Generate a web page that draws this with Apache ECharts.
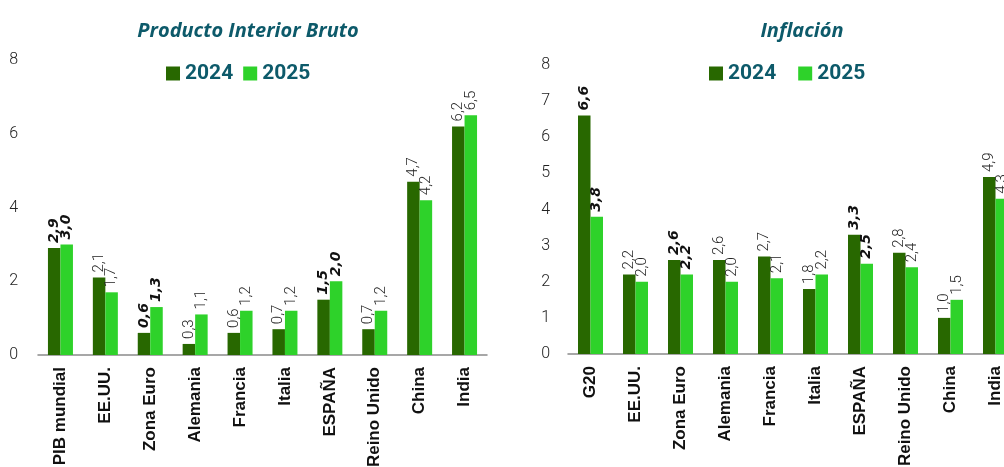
<!DOCTYPE html>
<html>
<head>
<meta charset="utf-8">
<script src="https://cdn.jsdelivr.net/npm/echarts@6/dist/echarts.min.js"></script>
<style>
  html, body { margin: 0; padding: 0; background: #fff; overflow: hidden; }
  #chart { width: 1004px; height: 467px; }
</style>
</head>
<body>
<div id="chart"></div>
<script>
// datos
var pibCats = ['PIB mundial', 'EE.UU.', 'Zona Euro', 'Alemania', 'Francia', 'Italia', 'ESPAÑA', 'Reino Unido', 'China', 'India'];
var pib2024 = [2.9, 2.1, 0.6, 0.3, 0.6, 0.7, 1.5, 0.7, 4.7, 6.2];
var pib2025 = [3.0, 1.7, 1.3, 1.1, 1.2, 1.2, 2.0, 1.2, 4.2, 6.5];

var infCats = ['G20', 'EE.UU.', 'Zona Euro', 'Alemania', 'Francia', 'Italia', 'ESPAÑA', 'Reino Unido', 'China', 'India'];
var inf2024 = [6.6, 2.2, 2.6, 2.6, 2.7, 1.8, 3.3, 2.8, 1.0, 4.9];
var inf2025 = [3.8, 2.0, 2.2, 2.0, 2.1, 2.2, 2.5, 2.4, 1.5, 4.3];

// categorias con etiqueta en negrita cursiva
var boldIdx = [0, 2, 6];

var years = ['2024', '2025'];
var colors = ['#286800', '#2ed22a'];
var teal = '#0d5a6a';

function fmt(v) { return v.toFixed(1).replace('.', ','); }

function barData(vals) {
  return vals.map(function (v, i) {
    var d = { value: v };
    if (boldIdx.indexOf(i) >= 0) {
      d.label = { fontWeight: 'bold', fontStyle: 'italic', fontFamily: 'DejaVu Sans', fontSize: 14, color: '#111' };
    }
    return d;
  });
}

function barSeries(name, vals, color, idx) {
  return {
    name: name,
    type: 'bar',
    xAxisIndex: idx,
    yAxisIndex: idx,
    barWidth: 12.5,
    barGap: '0%',
    itemStyle: { color: color },
    label: {
      show: true,
      position: 'top',
      rotate: 90,
      align: 'left',
      verticalAlign: 'middle',
      distance: 5,
      fontSize: 15,
      fontFamily: 'Roboto',
      fontWeight: 300,
      color: '#222',
      formatter: function (p) { return fmt(p.value); }
    },
    data: barData(vals)
  };
}

function xAxis(cats, idx) {
  return {
    type: 'category',
    gridIndex: idx,
    data: cats,
    axisTick: { show: false },
    axisLine: { lineStyle: { color: '#8a8a8a', width: 1.5 } },
    axisLabel: {
      interval: 0,
      rotate: 90,
      margin: 12,
      fontSize: 17,
      fontWeight: 'bold',
      fontFamily: 'Liberation Sans',
      color: '#111'
    }
  };
}

function yAxis(interval, margin, idx) {
  return {
    type: 'value',
    gridIndex: idx,
    min: 0,
    max: 8,
    interval: interval,
    splitLine: { show: false },
    axisLine: { show: false },
    axisTick: { show: false },
    axisLabel: { margin: margin, fontSize: 16, fontFamily: 'Roboto', fontWeight: 300, color: '#222' }
  };
}

var myChart = echarts.init(document.getElementById('chart'));
myChart.setOption({
  animation: false,
  color: colors,
  title: [
    {
      text: 'Producto Interior Bruto',
      left: 243, top: 16, textAlign: 'center',
      textStyle: { color: teal, fontSize: 20, fontWeight: 'bold', fontStyle: 'italic', fontFamily: 'Open Sans' }
    },
    {
      text: 'Inflación',
      left: 797, top: 16, textAlign: 'center',
      textStyle: { color: teal, fontSize: 20, fontWeight: 'bold', fontStyle: 'italic', fontFamily: 'Open Sans' }
    }
  ],
  legend: [
    {
      data: years, left: 161, top: 58, itemWidth: 14, itemHeight: 14, itemGap: 10,
      icon: 'rect',
      textStyle: { color: teal, fontSize: 21, fontWeight: 'bold', fontFamily: 'Roboto' }
    },
    {
      data: years, left: 704, top: 58, itemWidth: 14, itemHeight: 14, itemGap: 22,
      icon: 'rect',
      textStyle: { color: teal, fontSize: 21, fontWeight: 'bold', fontFamily: 'Roboto' }
    }
  ],
  grid: [
    { left: 38, right: 517, top: 60, bottom: 112, outerBoundsMode: 'none' },
    { left: 568, right: -14, top: 65, bottom: 113, outerBoundsMode: 'none' }
  ],
  xAxis: [xAxis(pibCats, 0), xAxis(infCats, 1)],
  yAxis: [yAxis(2, 20, 0), yAxis(1, 18, 1)],
  series: [
    barSeries(years[0], pib2024, colors[0], 0),
    barSeries(years[1], pib2025, colors[1], 0),
    barSeries(years[0], inf2024, colors[0], 1),
    barSeries(years[1], inf2025, colors[1], 1)
  ]
});
</script>
</body>
</html>
